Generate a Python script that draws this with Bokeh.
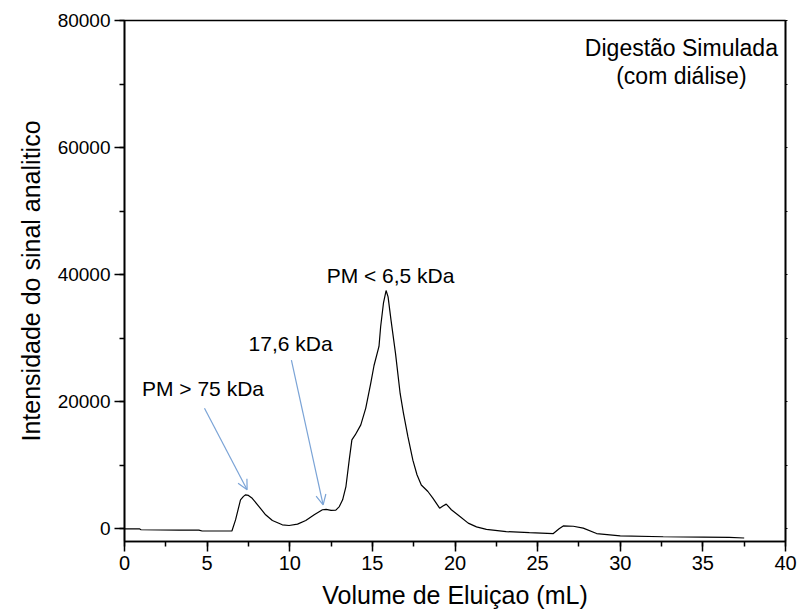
from bokeh.plotting import figure
from bokeh.models import (Range1d, SingleIntervalTicker, LinearAxis, Label, Arrow,
                          OpenHead, CustomJSTickFormatter)
from bokeh.embed import file_html
from bokeh.resources import INLINE

# Chromatogram
volume_ml = [0.0, 0.9, 1.0, 3.3, 4.5, 4.7, 5.5, 6.5, 6.72, 7.02, 7.2, 7.33, 7.5, 7.73,
             8.14, 8.54, 8.95, 9.55, 9.96, 10.47, 10.97, 11.48, 11.98, 12.2, 12.5, 12.79,
             13.0, 13.2, 13.4, 13.6, 13.76, 13.96, 14.3, 14.6, 14.9, 15.1, 15.4, 15.5,
             15.67, 15.83, 15.95, 16.13, 16.4, 16.68, 16.88, 17.15, 17.45, 17.7, 17.96,
             18.36, 18.66, 19.07, 19.27, 19.47, 19.78, 20.3, 20.8, 21.3, 21.9, 23.1, 24.5,
             25.95, 26.3, 26.55, 27.16, 27.76, 28.57, 30.0, 32.6, 35.0, 36.6, 37.5]
signal = [0, 0, -150, -200, -200, -350, -350, -350, 1400, 4560, 5100, 5350, 5250, 4800,
          3500, 2200, 1300, 630, 520, 730, 1300, 2200, 3000, 3050, 2900, 2950,
          3500, 4560, 6650, 10850, 14000, 14770, 16350, 19000, 22900, 25700, 28700, 31800,
          35500, 37500, 36500, 32800, 27600, 21300, 18200, 14500, 10800, 8500, 6900,
          5870, 4820, 3250, 3600, 3880, 3000, 1940, 890, 300, -100, -450, -600,
          -750, 0, 450, 400, 100, -750, -1100, -1250, -1300, -1350, -1450]

# Annotations: text, text position, arrow tail, arrow head
ann_texts = ["PM > 75 kDa", "17,6 kDa", "PM < 6,5 kDa"]
ann_text_x = [4.75, 10.05, 16.1]
ann_text_y = [22080, 29150, 39920]
arrow_tail_x = [4.84, 10.1]
arrow_tail_y = [18970, 26560]
arrow_head_x = [7.42, 12.02]
arrow_head_y = [6130, 3770]

x_ticks_interval = 5
y_ticks_interval = 20000

FONT = "Liberation Sans"

p = figure(width=810, height=616, output_backend="svg", toolbar_location=None,
           x_range=Range1d(0, 40), y_range=Range1d(-2000, 80000),
           min_border_left=124, min_border_right=25, min_border_top=20,
           min_border_bottom=75)
p.grid.visible = False
p.outline_line_color = "black"
p.outline_line_width = 1.6
p.background_fill_color = "white"
p.border_fill_color = "white"

p.line(volume_ml, signal, line_color="black", line_width=1.2)

# axes
xa = p.xaxis[0]
xa.ticker = SingleIntervalTicker(interval=x_ticks_interval, num_minor_ticks=2)
xa.axis_label = "Volume de Eluiçao (mL)"
ya = p.yaxis[0]
ya.ticker = SingleIntervalTicker(interval=y_ticks_interval, num_minor_ticks=2)
ya.axis_label = "Intensidade do sinal analitico"
for ax in (xa, ya):
    ax.axis_line_color = "black"
    ax.axis_line_width = 1.6
    ax.major_tick_line_color = "black"
    ax.minor_tick_line_color = "black"
    ax.major_tick_line_width = 1.5
    ax.minor_tick_line_width = 1.5
    ax.major_tick_in = 0
    ax.major_tick_out = 10
    ax.minor_tick_in = 0
    ax.minor_tick_out = 5
    ax.major_label_text_font = FONT
    ax.major_label_text_color = "black"
    ax.axis_label_text_font = FONT
    ax.axis_label_text_font_style = "normal"
    ax.axis_label_text_font_size = "25px"
    ax.axis_label_text_color = "black"
xa.major_label_text_font_size = "20px"
ya.major_label_text_font_size = "19px"
xa.axis_label_standoff = 8
ya.axis_label_standoff = 10
ya.major_label_standoff = 4
xa.major_label_standoff = 4

ra = LinearAxis(ticker=SingleIntervalTicker(interval=10000, num_minor_ticks=0),
                formatter=CustomJSTickFormatter(code="return '';"),
                major_tick_in=0, major_tick_out=2,
                minor_tick_out=0, minor_tick_in=0, axis_line_color="black",
                axis_line_width=1.6, major_label_standoff=0)
p.add_layout(ra, "right")

for t, tx, ty in zip(ann_texts, ann_text_x, ann_text_y):
    p.add_layout(Label(x=tx, y=ty, text=t, text_align="center", text_baseline="middle",
                       text_font=FONT, text_font_size="21px", text_color="black"))

for x0, y0, x1, y1 in zip(arrow_tail_x, arrow_tail_y, arrow_head_x, arrow_head_y):
    p.add_layout(Arrow(x_start=x0, y_start=y0, x_end=x1, y_end=y1,
                       line_color="#7aa3d6", line_width=1.2,
                       end=OpenHead(size=10, line_color="#7aa3d6", line_width=1.2)))

p.add_layout(Label(x=33.7, y=75600, text="Digestão Simulada", text_align="center",
                   text_baseline="middle", text_font=FONT, text_font_size="23px",
                   text_color="black"))
p.add_layout(Label(x=33.7, y=71300, text="(com diálise)", text_align="center",
                   text_baseline="middle", text_font=FONT, text_font_size="23px",
                   text_color="black"))

open("out.html", "w").write(file_html(p, INLINE))
